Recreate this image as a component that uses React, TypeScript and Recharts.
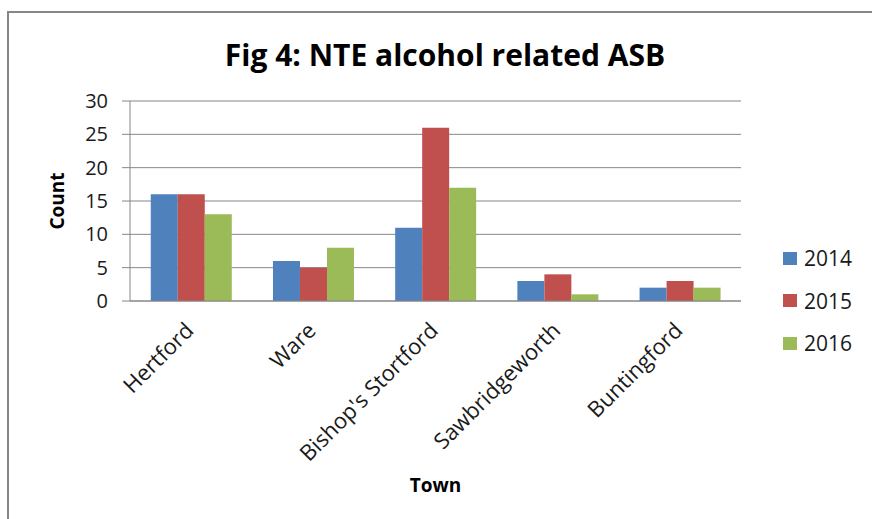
import React from 'react';
import { BarChart, Bar, XAxis, YAxis, CartesianGrid } from 'recharts';

const towns = ['Hertford', 'Ware', "Bishop's Stortford", 'Sawbridgeworth', 'Buntingford'];
const asb2014 = [16, 6, 11, 3, 2];
const asb2015 = [16, 5, 26, 4, 3];
const asb2016 = [13, 8, 17, 1, 2];
const yTicks = [0, 5, 10, 15, 20, 25, 30];

const series = [
  { key: '2014', color: '#4F81BD' },
  { key: '2015', color: '#C0504D' },
  { key: '2016', color: '#9BBB59' },
];

const data = towns.map((town, i) => ({
  town,
  '2014': asb2014[i],
  '2015': asb2015[i],
  '2016': asb2016[i],
}));

const FONT = '"Open Sans", sans-serif';
const AXIS_GREY = '#868686';

const TownTick = ({ x, y, payload }: any) => (
  <g transform={`translate(${x + 4},${y + 23})`}>
    <text
      x={0}
      y={0}
      textAnchor="end"
      transform="rotate(-45)"
      fontFamily={FONT}
      fontSize={22}
      fill="#1a1a1a"
    >
      {payload.value}
    </text>
  </g>
);

const CountLabel = ({ viewBox }: any) => {
  const cx = viewBox.x - 13;
  const cy = viewBox.y + viewBox.height / 2;
  return (
    <text
      x={cx}
      y={cy}
      textAnchor="middle"
      dominantBaseline="central"
      transform={`rotate(-90 ${cx} ${cy})`}
      fontFamily={FONT}
      fontSize={19}
      fontWeight="bold"
      fill="#000"
    >
      Count
    </text>
  );
};

// legend drawn as a plain overlay so it doesn't eat into the plot area
const YearLegend = () => (
  <div style={{ position: 'absolute', left: 783, top: 237, fontFamily: FONT, fontSize: 21, color: '#1a1a1a' }}>
    {series.map((s) => (
      <div key={s.key} style={{ display: 'flex', alignItems: 'center', height: 42.5 }}>
        <span style={{ width: 14, height: 13, background: s.color, marginRight: 7 }} />
        <span>{s.key}</span>
      </div>
    ))}
  </div>
);

const App: React.FC = () => {
  return (
    <div style={{ position: 'absolute', left: 0, top: 0, width: 872, height: 519, overflow: 'hidden', background: '#fff' }}>
      <div
        style={{
          position: 'absolute',
          left: 7,
          top: 11,
          width: 900,
          height: 600,
          border: `2px solid ${AXIS_GREY}`,
        }}
      />
      <div
        style={{
          position: 'absolute',
          left: 0,
          top: 34,
          width: 872,
          textAlign: 'center',
          fontFamily: FONT,
          fontWeight: 'bold',
          fontSize: 30,
          color: '#000',
          paddingLeft: 18,
          boxSizing: 'border-box',
        }}
      >
        Fig 4: NTE alcohol related ASB
      </div>
      <div style={{ position: 'absolute', left: 0, top: 0 }}>
        <BarChart
          width={872}
          height={519}
          data={data}
          margin={{ top: 101, right: 131, bottom: 18, left: 70 }}
          barCategoryGap="17%"
          barGap={0}
        >
          <CartesianGrid vertical={false} stroke={AXIS_GREY} strokeWidth={1} />
          <XAxis
            dataKey="town"
            height={200}
            interval={0}
            tickLine={false}
            axisLine={{ stroke: AXIS_GREY }}
            tick={<TownTick />}
            label={{
              value: 'Town',
              position: 'insideBottom',
              offset: 9,
              style: { fontFamily: FONT, fontSize: 19, fontWeight: 'bold', fill: '#000' },
            }}
          />
          <YAxis
            width={60}
            domain={[0, 30]}
            ticks={yTicks}
            interval={0}
            tickSize={8}
            tickMargin={14}
            tickLine={{ stroke: AXIS_GREY }}
            axisLine={{ stroke: AXIS_GREY }}
            tick={{ fontFamily: FONT, fontSize: 20, fill: '#1a1a1a' }}
            label={<CountLabel />}
          />
          {series.map((s) => (
            <Bar key={s.key} dataKey={s.key} fill={s.color} isAnimationActive={false} />
          ))}
        </BarChart>
      </div>
      <YearLegend />
    </div>
  );
};

export default App;
